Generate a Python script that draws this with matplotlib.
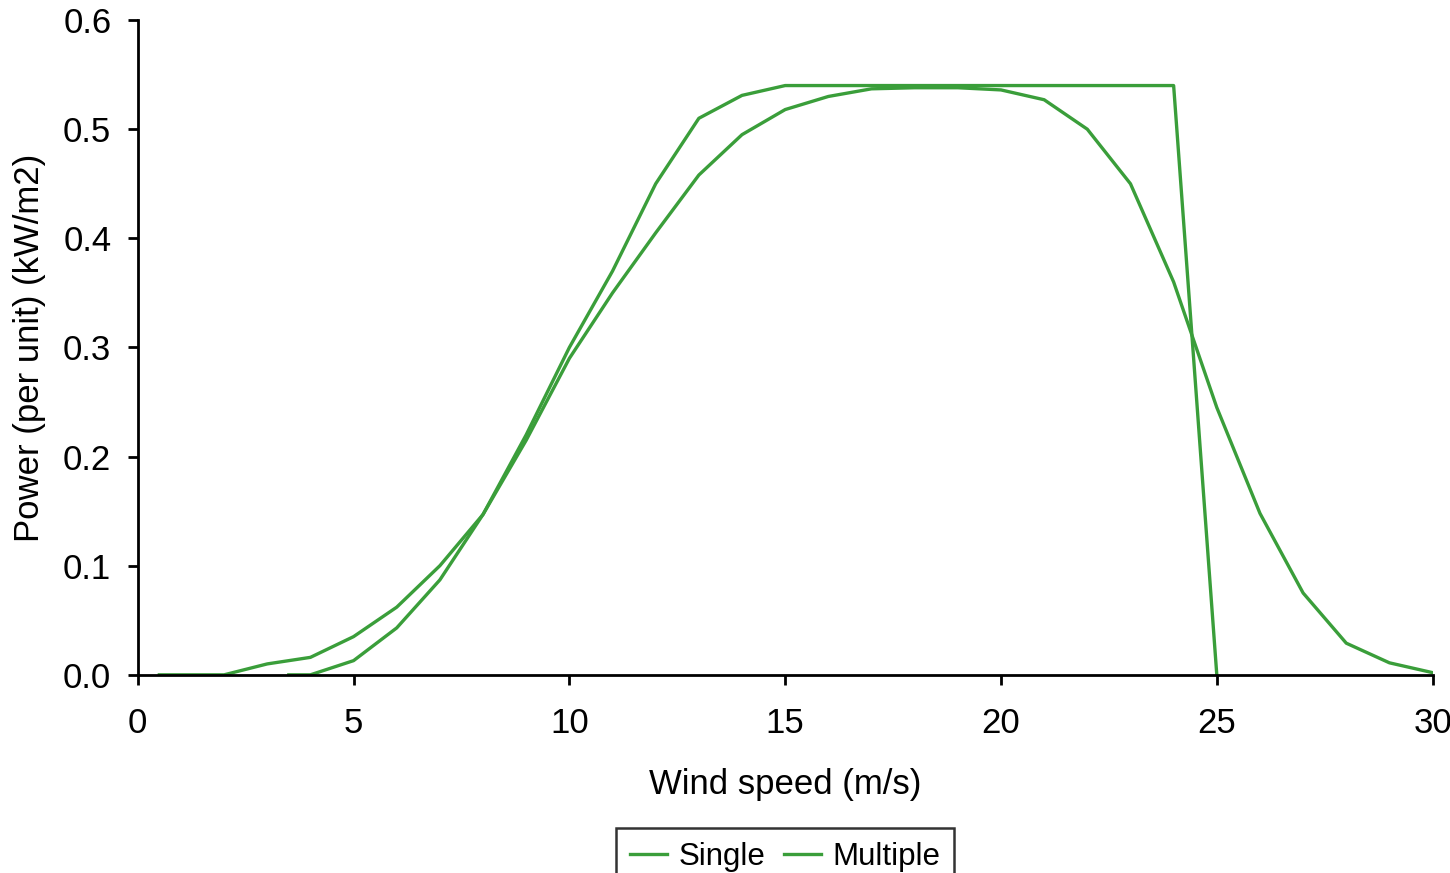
import matplotlib.pyplot as plt
import numpy as np

plt.rcdefaults()
plt.rcParams['font.family'] = ['Liberation Sans', 'DejaVu Sans']
plt.rcParams['font.size'] = 25

# wind speed (m/s) and power (kW/m2)
single_x = [3.5, 4, 5, 6, 7, 8, 9, 10, 11, 12, 13, 14, 15, 16, 17, 18, 19, 20, 21, 22, 23, 24, 25]
single_y = [0.0, 0.0, 0.013, 0.043, 0.087, 0.147, 0.22, 0.30, 0.37, 0.45, 0.51, 0.531, 0.54,
            0.54, 0.54, 0.54, 0.54, 0.54, 0.54, 0.54, 0.54, 0.54, 0.0]

multiple_x = [0.5, 1, 2, 3, 4, 5, 6, 7, 8, 9, 10, 11, 12, 13, 14, 15, 16, 17, 18, 19, 20,
              21, 22, 23, 24, 25, 26, 27, 28, 29, 30]
multiple_y = [0.0, 0.0, 0.0, 0.01, 0.016, 0.035, 0.062, 0.10, 0.147, 0.215, 0.29, 0.35, 0.405,
              0.458, 0.495, 0.518, 0.53, 0.537, 0.538, 0.538, 0.536, 0.527, 0.50, 0.45, 0.36,
              0.245, 0.148, 0.075, 0.029, 0.011, 0.002]

green = '#3a9e3a'

fig = plt.figure(figsize=(14.5, 8.73), dpi=100)
ax = fig.add_axes([0.095, 0.227, 0.893, 0.75])

ax.plot(single_x, single_y, color=green, lw=2.4, label='Single')
ax.plot(multiple_x, multiple_y, color=green, lw=2.4, label='Multiple')

ax.set_xlim(0, 30)
ax.set_ylim(0, 0.6)
ax.set_xticks(np.arange(0, 31, 5))
ax.set_yticks(np.arange(0, 0.61, 0.1))
ax.set_yticklabels(['{:.1f}'.format(v) for v in np.arange(0, 0.61, 0.1)])

ax.set_xlabel('Wind speed (m/s)', labelpad=20)
ax.set_ylabel('Power (per unit) (kW/m2)', labelpad=12)

for side in ['top', 'right']:
  ax.spines[side].set_visible(False)
for side in ['left', 'bottom']:
  ax.spines[side].set_linewidth(2)
ax.tick_params(direction='out', length=7, width=2)
ax.tick_params(axis='x', pad=16)
ax.tick_params(axis='y', pad=12)

# legend sits under the axes, centred on the plot area
leg = fig.legend(loc='upper center', bbox_to_anchor=(0.095 + 0.893 / 2, 0.052), ncol=2,
                 frameon=True, fancybox=False, edgecolor='black',
                 handlelength=1.2, handletextpad=0.35, columnspacing=0.6,
                 borderpad=0.45, borderaxespad=0, fontsize=22.5)
leg.get_frame().set_linewidth(1.8)

fig.savefig('out.png', dpi=100)
